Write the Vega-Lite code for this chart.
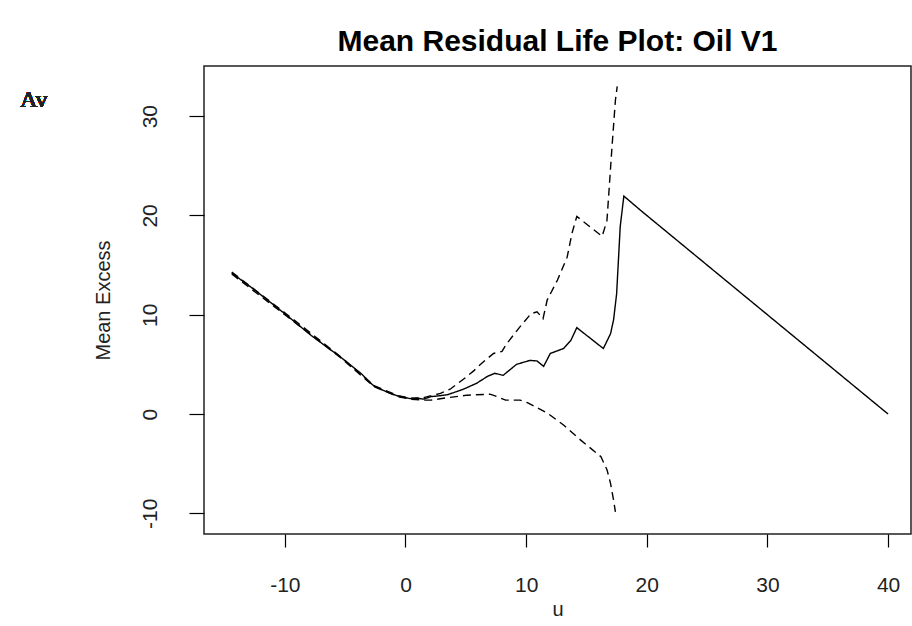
{
  "$schema": "https://vega.github.io/schema/vega-lite/v6.json",
  "width": 707,
  "height": 468,
  "autosize": {"type": "none"},
  "padding": {"left": 204, "top": 66, "right": 1, "bottom": 92},
  "background": "white",
  "config": {
    "view": {"stroke": "#222", "strokeWidth": 1.5},
    "font": "Liberation Sans"
  },
  "title": {
    "text": "Mean Residual Life Plot: Oil V1",
    "font": "Liberation Sans",
    "fontSize": 30,
    "fontWeight": "bold",
    "color": "black",
    "anchor": "middle",
    "frame": "group",
    "offset": 9
  },
  "data": {
    "values": [
      {"s": "me", "t": "solid", "u": -14.4, "v": 14.2},
      {"s": "me", "t": "solid", "u": -12.5, "v": 12.5},
      {"s": "me", "t": "solid", "u": -10.0, "v": 10.1},
      {"s": "me", "t": "solid", "u": -7.8, "v": 7.9},
      {"s": "me", "t": "solid", "u": -5.4, "v": 5.75},
      {"s": "me", "t": "solid", "u": -3.7, "v": 4.1},
      {"s": "me", "t": "solid", "u": -2.6, "v": 2.8},
      {"s": "me", "t": "solid", "u": -1.5, "v": 2.2},
      {"s": "me", "t": "solid", "u": -0.6, "v": 1.8},
      {"s": "me", "t": "solid", "u": 0.4, "v": 1.55},
      {"s": "me", "t": "solid", "u": 1.0, "v": 1.6},
      {"s": "me", "t": "solid", "u": 1.5, "v": 1.5},
      {"s": "me", "t": "solid", "u": 2.1, "v": 1.75},
      {"s": "me", "t": "solid", "u": 2.9, "v": 1.85},
      {"s": "me", "t": "solid", "u": 3.5, "v": 1.95},
      {"s": "me", "t": "solid", "u": 4.8, "v": 2.5},
      {"s": "me", "t": "solid", "u": 5.9, "v": 3.1},
      {"s": "me", "t": "solid", "u": 6.8, "v": 3.8},
      {"s": "me", "t": "solid", "u": 7.4, "v": 4.1},
      {"s": "me", "t": "solid", "u": 8.1, "v": 3.9},
      {"s": "me", "t": "solid", "u": 9.2, "v": 5.0},
      {"s": "me", "t": "solid", "u": 10.3, "v": 5.4},
      {"s": "me", "t": "solid", "u": 10.9, "v": 5.35},
      {"s": "me", "t": "solid", "u": 11.45, "v": 4.8},
      {"s": "me", "t": "solid", "u": 12.0, "v": 6.1},
      {"s": "me", "t": "solid", "u": 13.1, "v": 6.6},
      {"s": "me", "t": "solid", "u": 13.7, "v": 7.4},
      {"s": "me", "t": "solid", "u": 14.2, "v": 8.7},
      {"s": "me", "t": "solid", "u": 16.4, "v": 6.6},
      {"s": "me", "t": "solid", "u": 17.0, "v": 8.1},
      {"s": "me", "t": "solid", "u": 17.25, "v": 9.5},
      {"s": "me", "t": "solid", "u": 17.5, "v": 12.1},
      {"s": "me", "t": "solid", "u": 17.65, "v": 15.5},
      {"s": "me", "t": "solid", "u": 17.8, "v": 18.9},
      {"s": "me", "t": "solid", "u": 18.1, "v": 21.95},
      {"s": "me", "t": "solid", "u": 19.5, "v": 20.5},
      {"s": "me", "t": "solid", "u": 40.0, "v": 0.0},

      {"s": "upper", "t": "dashed", "u": -14.4, "v": 14.3},
      {"s": "upper", "t": "dashed", "u": -10.0, "v": 10.2},
      {"s": "upper", "t": "dashed", "u": -5.4, "v": 5.8},
      {"s": "upper", "t": "dashed", "u": -2.6, "v": 2.85},
      {"s": "upper", "t": "dashed", "u": -0.6, "v": 1.85},
      {"s": "upper", "t": "dashed", "u": 0.4, "v": 1.6},
      {"s": "upper", "t": "dashed", "u": 1.5, "v": 1.65},
      {"s": "upper", "t": "dashed", "u": 2.9, "v": 2.08},
      {"s": "upper", "t": "dashed", "u": 3.7, "v": 2.5},
      {"s": "upper", "t": "dashed", "u": 4.8, "v": 3.5},
      {"s": "upper", "t": "dashed", "u": 5.7, "v": 4.4},
      {"s": "upper", "t": "dashed", "u": 6.3, "v": 5.1},
      {"s": "upper", "t": "dashed", "u": 7.3, "v": 6.1},
      {"s": "upper", "t": "dashed", "u": 8.0, "v": 6.3},
      {"s": "upper", "t": "dashed", "u": 8.4, "v": 7.1},
      {"s": "upper", "t": "dashed", "u": 9.5, "v": 8.8},
      {"s": "upper", "t": "dashed", "u": 10.4, "v": 10.1},
      {"s": "upper", "t": "dashed", "u": 10.9, "v": 10.3},
      {"s": "upper", "t": "dashed", "u": 11.4, "v": 9.6},
      {"s": "upper", "t": "dashed", "u": 11.75, "v": 11.5},
      {"s": "upper", "t": "dashed", "u": 12.6, "v": 13.5},
      {"s": "upper", "t": "dashed", "u": 13.4, "v": 15.8},
      {"s": "upper", "t": "dashed", "u": 13.8, "v": 18.2},
      {"s": "upper", "t": "dashed", "u": 14.2, "v": 19.9},
      {"s": "upper", "t": "dashed", "u": 16.3, "v": 17.9},
      {"s": "upper", "t": "dashed", "u": 16.7, "v": 19.5},
      {"s": "upper", "t": "dashed", "u": 17.1, "v": 26.6},
      {"s": "upper", "t": "dashed", "u": 17.4, "v": 31.6},
      {"s": "upper", "t": "dashed", "u": 17.55, "v": 33.0},

      {"s": "lower", "t": "dashed", "u": -14.4, "v": 14.1},
      {"s": "lower", "t": "dashed", "u": -10.0, "v": 10.0},
      {"s": "lower", "t": "dashed", "u": -5.4, "v": 5.7},
      {"s": "lower", "t": "dashed", "u": -2.6, "v": 2.75},
      {"s": "lower", "t": "dashed", "u": -0.6, "v": 1.75},
      {"s": "lower", "t": "dashed", "u": 0.4, "v": 1.5},
      {"s": "lower", "t": "dashed", "u": 1.5, "v": 1.4},
      {"s": "lower", "t": "dashed", "u": 2.1, "v": 1.4},
      {"s": "lower", "t": "dashed", "u": 3.5, "v": 1.65},
      {"s": "lower", "t": "dashed", "u": 5.1, "v": 1.9},
      {"s": "lower", "t": "dashed", "u": 7.0, "v": 2.0},
      {"s": "lower", "t": "dashed", "u": 7.6, "v": 1.75},
      {"s": "lower", "t": "dashed", "u": 8.3, "v": 1.4},
      {"s": "lower", "t": "dashed", "u": 9.5, "v": 1.4},
      {"s": "lower", "t": "dashed", "u": 10.1, "v": 1.15},
      {"s": "lower", "t": "dashed", "u": 11.75, "v": 0.1},
      {"s": "lower", "t": "dashed", "u": 13.1, "v": -1.1},
      {"s": "lower", "t": "dashed", "u": 14.5, "v": -2.6},
      {"s": "lower", "t": "dashed", "u": 16.2, "v": -4.3},
      {"s": "lower", "t": "dashed", "u": 16.7, "v": -5.6},
      {"s": "lower", "t": "dashed", "u": 17.0, "v": -7.0},
      {"s": "lower", "t": "dashed", "u": 17.25, "v": -8.7},
      {"s": "lower", "t": "dashed", "u": 17.4, "v": -9.85}
    ]
  },
  "layer": [
    {
      "mark": {"type": "line", "color": "black", "strokeWidth": 1.4},
      "encoding": {
        "x": {
          "field": "u", "type": "quantitative",
          "scale": {"domain": [-16.7, 41.9], "nice": false, "zero": false},
          "axis": {
            "title": "u", "values": [-10, 0, 10, 20, 30, 40],
            "labelExpr": "'' + datum.value",
            "domain": false, "grid": false,
            "tickColor": "black", "tickSize": 13, "tickWidth": 1.2,
            "labelFontSize": 21, "labelColor": "#222", "labelPadding": 27,
            "titleFontSize": 20, "titleFontWeight": "normal", "titleColor": "#222", "titlePadding": 4
          }
        },
        "y": {
          "field": "v", "type": "quantitative",
          "scale": {"domain": [-12.08, 35.05], "nice": false, "zero": false},
          "axis": {
            "title": "Mean Excess", "values": [-10, 0, 10, 20, 30],
            "labelExpr": "'' + datum.value",
            "domain": false, "grid": false,
            "tickColor": "black", "tickSize": 15, "tickWidth": 1.2,
            "labelAngle": -90, "labelAlign": "center", "labelBaseline": "bottom",
            "labelFontSize": 21, "labelColor": "#222", "labelPadding": 29,
            "titleFontSize": 20, "titleFontWeight": "normal", "titleColor": "#222", "titlePadding": 26
          }
        },
        "detail": {"field": "s"},
        "strokeDash": {
          "field": "t", "type": "nominal",
          "scale": {"domain": ["solid", "dashed"], "range": [[1, 0], [8, 5]]},
          "legend": null
        }
      }
    },
    {
      "mark": {"type": "text", "font": "Liberation Serif", "fontSize": 24, "fontWeight": "normal", "align": "left", "baseline": "middle", "color": "#222"},
      "encoding": {
        "x": {"datum": -31.95},
        "y": {"datum": 31.6},
        "text": {"value": "Av"}
      }
    }
  ]
}
